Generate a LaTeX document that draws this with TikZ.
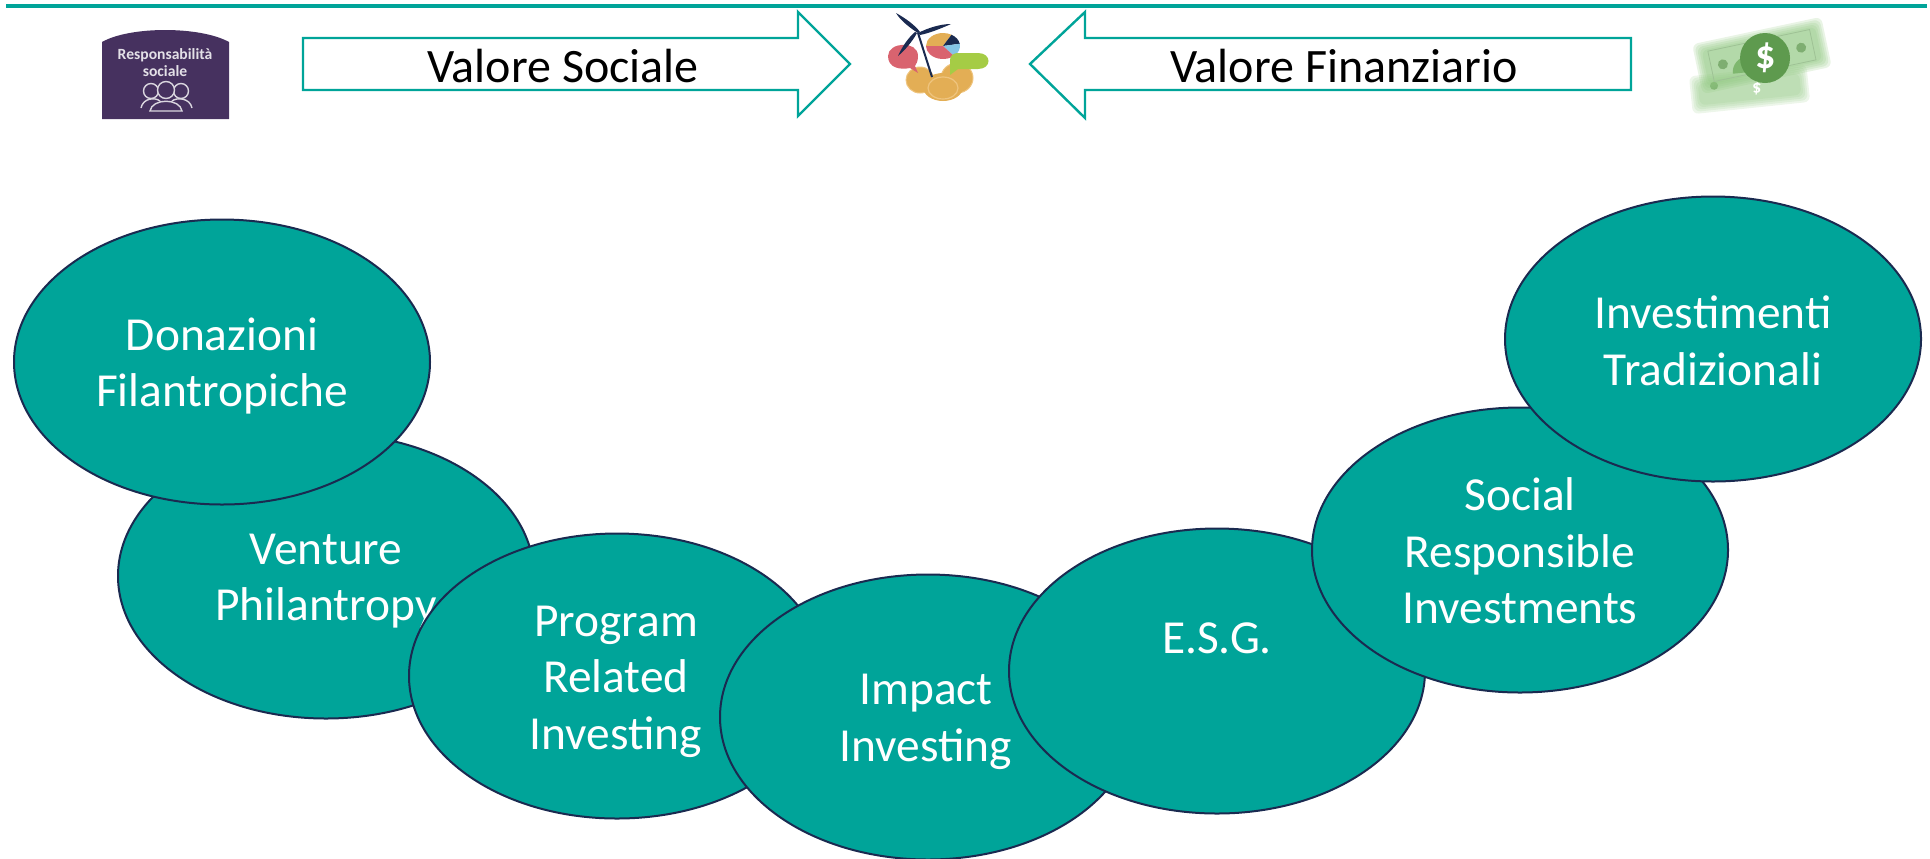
\documentclass[tikz,border=0pt]{standalone}
\usepackage{fontspec}
\setmainfont{Carlito}
\usetikzlibrary{shapes.geometric}
\definecolor{teal1}{HTML}{00A499}
\definecolor{navy1}{HTML}{1A2A50}
\definecolor{purp}{HTML}{46315F}
\definecolor{gold1}{HTML}{E3AE55}
\definecolor{gold2}{HTML}{EFC47E}
\definecolor{rose1}{HTML}{D9636F}
\definecolor{lime1}{HTML}{A5CC45}
\definecolor{sky1}{HTML}{85C5E5}
\definecolor{gr1}{HTML}{5E9A4E}
\definecolor{gr2}{HTML}{8FC77F}
\tikzset{
  x=0.5pt,y=-0.5pt,
  oval/.style={ellipse,draw=navy1,line width=1pt,fill=teal1,inner sep=0pt,
    minimum width=208pt,minimum height=142.5pt},
  ovaltext/.style={text=white,inner sep=0pt,align=center,
    font=\fontsize{23.7}{28.3}\selectfont},
  bigarrow/.style={draw=teal1,line width=1.2pt,fill=white,line join=miter},
  arrowtext/.style={font=\fontsize{24}{28}\selectfont,text=black},
  blade/.style={fill=navy1,draw=none},
  iconline/.style={draw=white!80!purp,line width=0.7pt,fill=none}
}
\begin{document}
\begin{tikzpicture}
\useasboundingbox (0,0) rectangle (1930,858);
% top rule
\fill[teal1] (6,4) rectangle (1927,8);
% arrows
\draw[bigarrow] (303,38) -- (798,38) -- (798,12) -- (850,64) -- (798,116) -- (798,90) -- (303,90) -- cycle;
\node[arrowtext] (valsoc) at (563,66) {Valore Sociale};
\draw[bigarrow] (1631,38) -- (1085,38) -- (1085,12) -- (1030,64) -- (1085,118) -- (1085,90) -- (1631,90) -- cycle;
\node[arrowtext] (valfin) at (1344,66) {Valore Finanziario};
% social responsibility icon
\fill[purp] (102,42) .. controls (130,26) and (200,26) .. (229,42) -- (229,119) -- (102,119) -- cycle;
\node[text=white!85!purp,font=\bfseries\fontsize{7.8}{8.5}\selectfont,align=center,inner sep=0pt] (resp) at (165,63) {Responsabilità\\sociale};
\draw[iconline] (151,91) circle (7.5);
\draw[iconline] (181,91) circle (7.5);
\draw[iconline,fill=purp] (166,90) circle (8.5);
\draw[iconline] (141,108) .. controls (143,98) and (155,97) .. (160,101);
\draw[iconline] (192,108) .. controls (190,98) and (177,97) .. (172,101);
\draw[iconline,fill=purp] (150,111) .. controls (152,98) and (180,98) .. (182,111) -- cycle;
% centre icon
\draw[gold2,fill=gold1,line width=0.5pt] (957,78) ellipse (16 and 15);
\draw[gold2,fill=gold1,line width=0.5pt] (920,80) ellipse (14 and 13);
\fill[gold1] (943,87) ellipse (20 and 14);
\draw[gold2,line width=0.6pt] (943,88) ellipse (15 and 11);
\fill[rose1] (888,56) .. controls (888,42) and (918,40) .. (918,56) .. controls (918,62) and (916,64) .. (915,66) -- (918,73) -- (910,68) .. controls (900,70) and (888,68) .. (888,56) -- cycle;
\fill[gold1] (943,46) -- ++(180:17 and 13) arc[start angle=180,end angle=300,x radius=17,y radius=13] -- cycle;
\fill[navy1] (943,46) -- ++(300:17 and 13) arc[start angle=300,end angle=350,x radius=17,y radius=13] -- cycle;
\fill[sky1] (943,46) -- ++(350:17 and 13) arc[start angle=350,end angle=410,x radius=17,y radius=13] -- cycle;
\fill[rose1] (943,46) -- ++(50:17 and 13) arc[start angle=50,end angle=180,x radius=17,y radius=13] -- cycle;
\fill[lime1] (958,53) -- (978,53) .. controls (992,53) and (992,69) .. (978,69) -- (958,69) -- (950,75) -- (950,60) .. controls (950,55) and (954,53) .. (958,53) -- cycle;
\draw[navy1,line width=1pt] (918,33) -- (932,77);
\fill[blade] (918,33) .. controls (910,28) and (900,20) .. (896,13) .. controls (905,18) and (915,25) .. (920,32) -- cycle;
\fill[blade] (918,33) .. controls (928,28) and (940,24) .. (951,24) .. controls (942,28) and (930,33) .. (920,35) -- cycle;
\fill[blade] (917,33) .. controls (912,42) and (905,50) .. (898,56) .. controls (902,47) and (908,38) .. (915,32) -- cycle;
% money icon
\begin{scope}[shift={(1750,84)},rotate=6]
  \foreach \g in {0,2,4,6,8}
    \fill[gr2,opacity=0.16,rounded corners=3pt] (-60+\g,-14+\g) rectangle (58-\g,24-\g);
  \fill[gr1] (-16,-12) arc (180:360:16) -- cycle;
  \fill[gr1!80!white] (-36,-2) circle (4);
\end{scope}
\node[text=white,font=\bfseries\fontsize{9}{9}\selectfont,rotate=180,inner sep=0pt] (dollar2) at (1757,88) {\$};
\begin{scope}[shift={(1762,56)},rotate=12]
  \foreach \g in {0,2,4,6,8}
    \fill[gr2,opacity=0.2,rounded corners=3pt] (-66+\g,-26+\g) rectangle (66-\g,25-\g);
  \draw[gr1!60!white,line width=0.4pt] (-52,-16) rectangle (52,15);
  \fill[gr1!80!white] (-40,0) circle (5);
  \fill[gr1!80!white] (40,0) circle (5);
\end{scope}
\fill[gr1] (1765,58) circle (25);
\node[text=white,font=\bfseries\fontsize{20}{20}\selectfont,inner sep=0pt] (dollar1) at (1766,58) {\$};
% ovals
\node[oval] (venture) at (326,576) {};
\node[ovaltext] (venturetxt) at (326,581) {Venture\\Philantropy};
\node[oval] (donaz) at (222,362) {};
\node[ovaltext] (donaztxt) at (222,366) {Donazioni\\Filantropiche};
\node[oval] (program) at (617,676) {};
\node[ovaltext] (programtxt) at (616,681.5) {Program\\Related\\Investing};
\node[oval] (impact) at (928,717) {};
\node[ovaltext] (impacttxt) at (926,722) {Impact\\Investing};
\node[oval] (esg) at (1217,671) {};
\node[ovaltext] (esgtxt) at (1217,638) {E.S.G.};
\node[oval] (social) at (1520,550) {};
\node[ovaltext] (socialtxt) at (1520,551) {Social\\Responsible\\Investments};
\node[oval] (invest) at (1713,339) {};
\node[ovaltext] (investtxt) at (1713,341) {Investimenti\\Tradizionali};
\end{tikzpicture}
\end{document}
